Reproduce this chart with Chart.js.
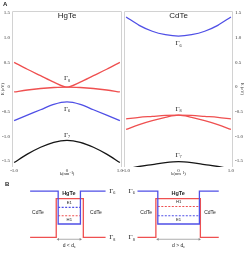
<!DOCTYPE html>
<html>
<head>
<meta charset="utf-8">
<script src="https://cdn.jsdelivr.net/npm/chart.js@4.4.0/dist/chart.umd.min.js"></script>
<style>
  html, body { margin: 0; padding: 0; background: #fff; }
  #wrap { position: relative; width: 245px; height: 255px; overflow: hidden; }
  canvas { position: absolute; }
</style>
</head>
<body>
<div id="wrap">
  <canvas id="hgte" width="130" height="180" style="left:0px;top:0px"></canvas>
  <canvas id="cdte" width="129" height="180" style="left:116px;top:0px"></canvas>
  <canvas id="wells" width="245" height="85" style="left:0px;top:170px"></canvas>
</div>
<script>
// band dispersion near k = 0, energies in eV
const kPoints = [-1, -0.75, -0.5, -0.25, 0, 0.25, 0.5, 0.75, 1];
const kTicks = [-1, 0, 1];
const energyTicks = [-1.5, -1, -0.5, 0, 0.5, 1, 1.5];

// HgTe (inverted band order)
const hgteG8Up   = [0.50, 0.36, 0.23, 0.10, 0.00, 0.10, 0.23, 0.36, 0.50];
const hgteG8Down = [-0.10, -0.06, -0.03, -0.01, 0.00, -0.01, -0.03, -0.06, -0.10];
const hgteG6     = [-0.68, -0.57, -0.46, -0.35, -0.30, -0.35, -0.46, -0.57, -0.68];
const hgteG7     = [-1.53, -1.36, -1.22, -1.12, -1.08, -1.12, -1.22, -1.36, -1.53];

// CdTe (normal band order)
const cdteG6     = [1.42, 1.25, 1.13, 1.06, 1.03, 1.06, 1.13, 1.25, 1.42];
const cdteG8Up   = [-0.645, -0.615, -0.595, -0.575, -0.57, -0.575, -0.595, -0.615, -0.645];
const cdteG8Down = [-0.86, -0.76, -0.68, -0.615, -0.57, -0.615, -0.68, -0.76, -0.86];
const cdteG7     = [-1.66, -1.61, -1.57, -1.53, -1.51, -1.53, -1.57, -1.61, -1.66];

// quantum well schematic: position along growth axis vs band edge energy (arb.)
const thinPos6  = [27, 56, 56, 79, 79, 105];
const thinPos8  = [27, 54, 54, 82, 82, 105];
const thickPos6 = [138, 159, 159, 202, 202, 222];
const thickPos8 = [138, 157, 157, 203, 203, 222];
const gamma6Edge = [1, 1, 0.29, 0.29, 1, 1];
const gamma8Edge = [0, 0, 0.84, 0.84, 0, 0];
const thinWell  = [56, 79];
const thickWell = [159, 202];
const levelE1 = [0.65, 0.47];   // [thin, thick]
const levelH1 = [0.47, 0.67];

const RED = '#ef5050', BLUE = '#4f4fe6', BLACK = '#151515', GRAY = '#8a8a8a';
const SERIF = '"Liberation Serif", "DejaVu Serif", serif';
const SANS = '"Liberation Sans", Arial, sans-serif';

function curve(ys, color) {
  return {
    data: kPoints.map((k, i) => ({ x: k, y: ys[i] })),
    borderColor: color, borderWidth: 1.3, pointRadius: 0,
    showLine: true, cubicInterpolationMode: 'monotone', fill: false
  };
}

function gammaLabel(ctx, sub, x, y, size) {
  ctx.save();
  ctx.fillStyle = '#222';
  ctx.textBaseline = 'middle';
  ctx.textAlign = 'left';
  ctx.font = size + 'px ' + SERIF;
  const w1 = ctx.measureText('\u0393').width;
  ctx.font = (size * 0.6) + 'px ' + SERIF;
  const w2 = ctx.measureText(sub).width;
  const x0 = x - (w1 + w2) / 2;
  ctx.font = size + 'px ' + SERIF;
  ctx.fillText('\u0393', x0, y);
  ctx.font = (size * 0.6) + 'px ' + SERIF;
  ctx.fillText(sub, x0 + w1, y + size * 0.3);
  ctx.restore();
}

const framePlugin = {
  id: 'frame',
  beforeDatasetsDraw(chart) {
    const { ctx, chartArea: a } = chart;
    ctx.save();
    ctx.strokeStyle = '#d2d2d2';
    ctx.lineWidth = 1;
    ctx.beginPath();
    ctx.moveTo(a.left + 0.5, a.bottom);
    ctx.lineTo(a.left + 0.5, a.top + 0.5);
    ctx.lineTo(a.right - 0.5, a.top + 0.5);
    ctx.lineTo(a.right - 0.5, a.bottom);
    ctx.stroke();
    ctx.restore();
  }
};

function bandChart(id, side, datasets, name, gammas, letter) {
  const labels = {
    id: 'labels',
    afterDatasetsDraw(chart) {
      const { ctx, chartArea: a } = chart;
      const x = chart.scales.x, y = chart.scales.y;
      ctx.save();
      ctx.fillStyle = '#222';
      ctx.textAlign = 'center';
      ctx.textBaseline = 'middle';
      ctx.font = '8px ' + SANS;
      ctx.fillText(name, x.getPixelForValue(0), a.top + 5);
      gammas.forEach(g => gammaLabel(ctx, g[0], x.getPixelForValue(0), y.getPixelForValue(g[1]), 7));
      ctx.font = '4.5px ' + SERIF;
      ctx.fillText('k(nm\u207B\u00B9)', x.getPixelForValue(0), 174);
      const tx = side === 'left' ? 3 : chart.width - 3;
      ctx.translate(tx, (a.top + a.bottom) / 2);
      ctx.rotate(side === 'left' ? -Math.PI / 2 : Math.PI / 2);
      ctx.fillText('E (eV)', 0, 0);
      ctx.restore();
      if (letter) {
        ctx.save();
        ctx.fillStyle = '#222';
        ctx.font = 'bold 6px ' + SANS;
        ctx.textBaseline = 'middle';
        ctx.fillText(letter, 3, 4);
        ctx.restore();
      }
    }
  };
  return new Chart(document.getElementById(id), {
    type: 'scatter',
    data: { datasets },
    options: {
      responsive: false, animation: false, devicePixelRatio: 1,
      layout: { padding: side === 'left' ? { top: 11, right: 8 } : { top: 11, left: 8 } },
      plugins: { legend: { display: false }, tooltip: { enabled: false } },
      scales: {
        x: {
          type: 'linear', min: -1.04, max: 1.04,
          grid: { display: false, drawTicks: false }, border: { display: false },
          ticks: { font: { family: SERIF, size: 5 }, color: '#333', padding: 1, maxRotation: 0,
                   callback: v => v === 0 ? '0' : v.toFixed(1) },
          afterBuildTicks: s => { s.ticks = kTicks.map(v => ({ value: v })); },
          afterFit: s => { s.height = 13; }
        },
        y: {
          position: side, min: -1.62, max: 1.54,
          grid: { display: false, drawTicks: false }, border: { display: false },
          ticks: { font: { family: SERIF, size: 5 }, color: '#333', padding: 2,
                   callback: v => v === 0 ? '0' : v.toFixed(1) },
          afterBuildTicks: s => { s.ticks = energyTicks.map(v => ({ value: v })); },
          afterFit: s => { s.width = 12; }
        }
      }
    },
    plugins: [framePlugin, labels]
  });
}

bandChart('hgte', 'left',
  [curve(hgteG8Up, RED), curve(hgteG8Down, RED), curve(hgteG6, BLUE), curve(hgteG7, BLACK)],
  'HgTe', [['8', 0.17], ['6', -0.44], ['7', -0.97]], 'A');

bandChart('cdte', 'right',
  [curve(cdteG6, BLUE), curve(cdteG8Up, RED), curve(cdteG8Down, RED), curve(cdteG7, BLACK)],
  'CdTe', [['6', 0.88], ['8', -0.45], ['7', -1.37]], null);

// panel B: band alignment of the quantum wells
function edge(xs, ys, color) {
  return { data: xs.map((x, i) => ({ x, y: ys[i] })), borderColor: color, borderWidth: 1.3,
           pointRadius: 0, showLine: true, tension: 0, fill: false };
}
function level(xs, e, color) {
  return { data: xs.map(x => ({ x, y: e })), borderColor: color, borderWidth: 1.1,
           borderDash: [2, 1.5], pointRadius: 0, showLine: true, fill: false };
}
function arrow(xs) {
  return { data: xs.map(x => ({ x, y: -0.04 })), borderColor: GRAY, borderWidth: 0.7,
           showLine: true, pointStyle: 'triangle', pointRadius: 1.6,
           pointBackgroundColor: GRAY, pointBorderWidth: 0,
           pointRotation: c => c.dataIndex === 0 ? -90 : 90 };
}

const wellText = {
  id: 'wellText',
  afterDatasetsDraw(chart) {
    const { ctx } = chart;
    const X = v => chart.scales.x.getPixelForValue(v);
    const Y = v => chart.scales.y.getPixelForValue(v);
    ctx.save();
    ctx.fillStyle = '#222';
    ctx.textAlign = 'center';
    ctx.textBaseline = 'middle';
    const t = (s, x, y, f) => { ctx.font = f; ctx.fillText(s, X(x), Y(y)); };
    const big = 'bold 5.5px ' + SANS, mid = '5px ' + SANS, small = '4.2px ' + SANS;
    t('HgTe', 67, 0.94, big); t('CdTe', 35, 0.53, mid); t('CdTe', 95, 0.53, mid);
    t('HgTe', 180, 0.94, big); t('CdTe', 147, 0.53, mid); t('CdTe', 213, 0.53, mid);
    t('E1', 67.5, levelE1[0] + 0.09, small); t('H1', 67.5, levelH1[0] - 0.1, small);
    t('H1', 180.5, levelH1[1] + 0.09, small); t('E1', 180.5, levelE1[1] - 0.1, small);
    ctx.textAlign = 'left';
    ctx.font = 'bold 6px ' + SANS;
    ctx.fillText('B', 5, 14);
    ctx.restore();
    gammaLabel(ctx, '6', X(112), Y(1), 7); gammaLabel(ctx, '8', X(112), Y(0), 7);
    gammaLabel(ctx, '6', X(132), Y(1), 7); gammaLabel(ctx, '8', X(132), Y(0), 7);
    // d vs critical thickness
    [[67.5, 'd < d'], [180.5, 'd > d']].forEach(([x, s]) => {
      ctx.save();
      ctx.fillStyle = '#222';
      ctx.textBaseline = 'middle';
      ctx.font = '5px ' + SANS;
      const w = ctx.measureText(s).width;
      const x0 = X(x) - (w + 2) / 2;
      ctx.fillText(s, x0, Y(-0.18));
      ctx.font = '3.5px ' + SANS;
      ctx.fillText('c', x0 + w, Y(-0.18) + 1.5);
      ctx.restore();
    });
  }
};

new Chart(document.getElementById('wells'), {
  type: 'scatter',
  data: {
    datasets: [
      edge(thinPos6, gamma6Edge, BLUE), edge(thinPos8, gamma8Edge, RED),
      level(thinWell, levelE1[0], BLUE), level(thinWell, levelH1[0], RED),
      edge(thickPos6, gamma6Edge, BLUE), edge(thickPos8, gamma8Edge, RED),
      level(thickWell, levelH1[1], RED), level(thickWell, levelE1[1], BLUE),
      arrow(thinWell), arrow(thickWell)
    ]
  },
  options: {
    responsive: false, animation: false, devicePixelRatio: 1,
    layout: { padding: 0 },
    plugins: { legend: { display: false }, tooltip: { enabled: false } },
    scales: {
      x: { type: 'linear', display: false, min: 0, max: 245 },
      y: { display: false, min: -0.294, max: 1.3725 }
    }
  },
  plugins: [wellText]
});
</script>
</body>
</html>
